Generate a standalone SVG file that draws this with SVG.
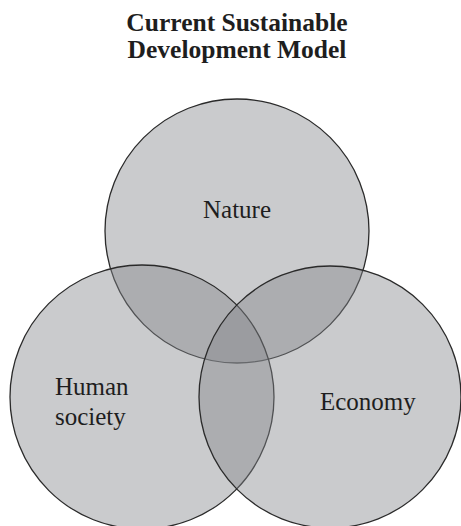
<svg xmlns="http://www.w3.org/2000/svg" width="461" height="526" viewBox="0 0 461 526">
<style>
.c{fill:#84878b;fill-opacity:0.43;stroke:#2a2a2a;stroke-width:1.3}
.t{font-family:"Liberation Serif","Times New Roman",serif;fill:#1e1e1e}
.h{font-weight:bold;font-size:25.5px;text-anchor:middle}
.l{font-size:25px}
</style>
<rect width="461" height="526" fill="#ffffff"/>
<g id="title">
<text class="t h" x="237" y="31">Current Sustainable</text>
<text class="t h" x="237" y="58">Development Model</text>
</g>
<g id="nature">
<circle class="c" cx="237" cy="231" r="132"/>
<text class="t l" x="237" y="218" text-anchor="middle">Nature</text>
</g>
<g id="human-society">
<circle class="c" cx="142" cy="397" r="132"/>
<text class="t l" x="55" y="395">Human</text>
<text class="t l" x="55" y="425">society</text>
</g>
<g id="economy">
<circle class="c" cx="330" cy="397" r="131"/>
<text class="t l" x="320" y="410">Economy</text>
</g>
<g id="connectors"/>
</svg>
